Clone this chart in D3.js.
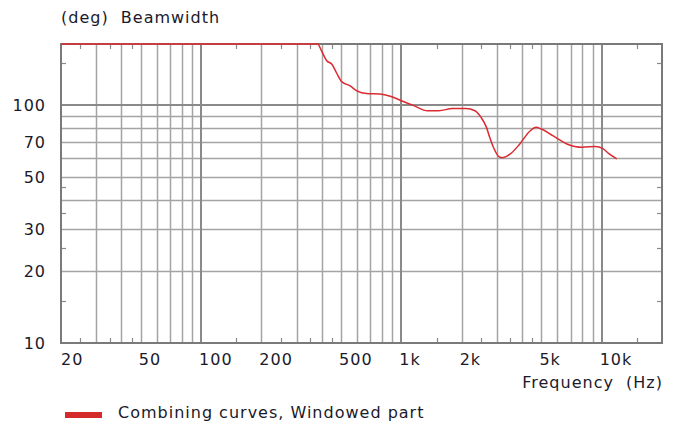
<!DOCTYPE html>
<html>
<head>
<meta charset="utf-8">
<script src="https://cdn.jsdelivr.net/npm/d3@7"></script>
<style>
  body { margin: 0; background: #fff; }
  text { font-family: "DejaVu Sans", Verdana, sans-serif; fill: #1a1a2a; font-size: 16px; letter-spacing: 1px; }
</style>
</head>
<body>
<script>
// beamwidth curve (Hz, deg)
const freqs = [20, 100, 300, 382, 400, 424, 450, 475, 500, 555, 600, 670, 780, 880, 1000, 1160, 1350, 1540, 1800, 2100, 2330, 2500, 2660, 2760, 2880, 3100, 3200, 3500, 3900, 4400, 4700, 5000, 5700, 6700, 8000, 9300, 10100, 10900, 11900];
const beam = [180, 180, 180, 180, 168, 153, 148, 136, 126, 120, 114.5, 111.5, 111, 108.7, 104, 99, 94.4, 94.4, 96.5, 96.5, 94.4, 88.5, 80.4, 73, 66.3, 60.2, 60, 62.2, 68.5, 77.8, 80.4, 79.1, 74.2, 68.5, 66.3, 66.9, 65.6, 62.2, 59.3];

const xTickVals = [20, 50, 100, 200, 500, 1000, 2000, 5000, 10000];
const xTickText = ["20", "50", "100", "200", "500", "1k", "2k", "5k", "10k"];
const xGrid = [30, 40, 50, 60, 70, 80, 90, 200, 300, 400, 500, 600, 700, 800, 900, 2000, 3000, 4000, 5000, 6000, 7000, 8000, 9000];
const xMajor = [100, 1000, 10000];
const xMinor = [25, 35, 45, 150, 250, 350, 450, 1500, 2500, 3500, 4500, 15000];

const yTickVals = [10, 20, 30, 50, 70, 100];
const yGrid = [20, 30, 40, 50, 60, 70, 80, 90];
const yMajor = [100];
const yMinor = [15, 25, 35, 45, 150];

const W = 678, H = 425;
const pLeft = 61, pRight = 662, pTop = 44, pBottom = 343;

const svg = d3.select("body").append("svg")
    .attr("width", W)
    .attr("height", H);

const x = d3.scaleLog().domain([20, 20000]).range([pLeft, pRight]);
const y = d3.scaleLog().domain([10, 180]).range([pBottom, pTop]).clamp(true);

const g = svg.append("g");

// grid lines
g.selectAll(".vgrid").data(xGrid).enter().append("line")
    .attr("x1", d => Math.round(x(d)) + 0.5).attr("x2", d => Math.round(x(d)) + 0.5)
    .attr("y1", pTop).attr("y2", pBottom)
    .style("stroke", "#a4a4a4").style("stroke-width", 1.5);
g.selectAll(".hgrid").data(yGrid).enter().append("line")
    .attr("y1", d => Math.round(y(d)) + 0.5).attr("y2", d => Math.round(y(d)) + 0.5)
    .attr("x1", pLeft).attr("x2", pRight)
    .style("stroke", "#a4a4a4").style("stroke-width", 1.5);
g.selectAll(".vmaj").data(xMajor).enter().append("line")
    .attr("x1", d => Math.round(x(d))).attr("x2", d => Math.round(x(d)))
    .attr("y1", pTop).attr("y2", pBottom)
    .style("stroke", "#8a8a8a").style("stroke-width", 2);
g.selectAll(".hmaj").data(yMajor).enter().append("line")
    .attr("y1", d => Math.round(y(d))).attr("y2", d => Math.round(y(d)))
    .attr("x1", pLeft).attr("x2", pRight)
    .style("stroke", "#8a8a8a").style("stroke-width", 2);

// minor ticks on all four sides
const tl = 5;
xMinor.forEach(f => {
    const px = Math.round(x(f)) + 0.5;
    g.append("line").attr("x1", px).attr("x2", px).attr("y1", pTop).attr("y2", pTop + tl)
        .style("stroke", "#8a8a8a").style("stroke-width", 1.2);
    g.append("line").attr("x1", px).attr("x2", px).attr("y1", pBottom - tl).attr("y2", pBottom)
        .style("stroke", "#8a8a8a").style("stroke-width", 1.2);
});
yMinor.forEach(v => {
    const py = Math.round(y(v)) + 0.5;
    g.append("line").attr("x1", pLeft).attr("x2", pLeft + tl).attr("y1", py).attr("y2", py)
        .style("stroke", "#8a8a8a").style("stroke-width", 1.2);
    g.append("line").attr("x1", pRight - tl).attr("x2", pRight).attr("y1", py).attr("y2", py)
        .style("stroke", "#8a8a8a").style("stroke-width", 1.2);
});

// frame
g.append("rect")
    .attr("x", pLeft).attr("y", pTop)
    .attr("width", pRight - pLeft).attr("height", pBottom - pTop)
    .style("fill", "none").style("stroke", "#7a7a7a").style("stroke-width", 2);

// curve
const line = d3.line()
    .x((d, i) => x(freqs[i]))
    .y(d => y(d))
    .curve(d3.curveMonotoneX);
g.append("path")
    .datum(beam)
    .attr("d", line)
    .style("fill", "none")
    .style("stroke", "#dc2a32")
    .style("stroke-width", 1.5);

// y labels
svg.selectAll(".ylab").data(yTickVals).enter().append("text")
    .attr("x", 46).attr("y", d => y(d) + 6)
    .attr("text-anchor", "end")
    .text(d => d);

// x labels
svg.selectAll(".xlab").data(xTickVals).enter().append("text")
    .attr("x", (d, i) => x(d) + (i === 0 ? 0 : -2))
    .attr("y", 365)
    .text((d, i) => xTickText[i]);

svg.append("text")
    .attr("x", pRight + 1).attr("y", 388)
    .attr("text-anchor", "end")
    .attr("xml:space", "preserve")
    .text("Frequency  (Hz)");

svg.append("text")
    .attr("x", 61).attr("y", 23)
    .attr("xml:space", "preserve")
    .text("(deg)  Beamwidth");

// legend
svg.append("rect")
    .attr("x", 65).attr("y", 412)
    .attr("width", 37).attr("height", 6)
    .style("fill", "#d42a2a");
svg.append("text")
    .attr("x", 118).attr("y", 418)
    .text("Combining curves, Windowed part");
</script>
</body>
</html>
